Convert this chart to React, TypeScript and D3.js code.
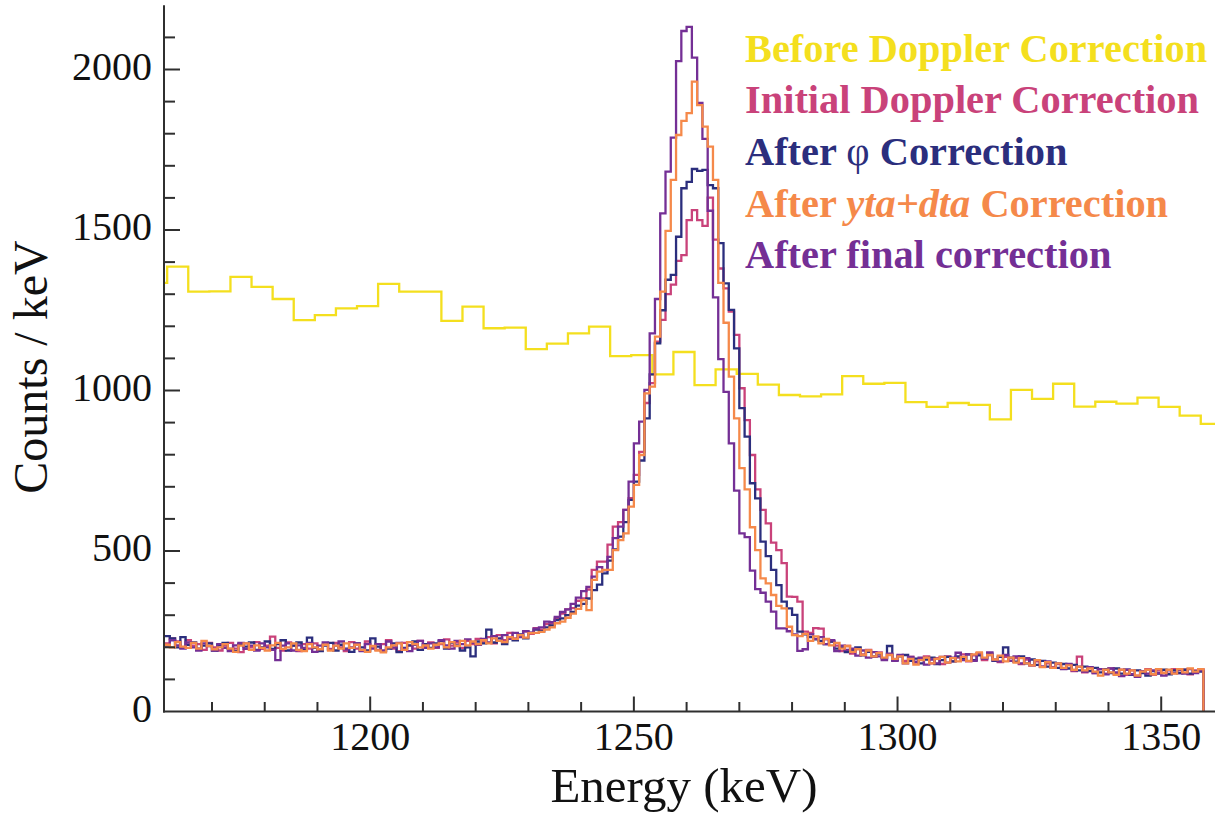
import React from 'react';
import * as d3 from 'd3';

// ---------- data ----------
// fine histograms: 1 keV bins, first bin lower edge 1161 keV
const fineStart = 1161;
const fineBin = 1;
// coarse histogram (before Doppler correction): 4 keV bins starting at 1157.5 keV
const coarseStart = 1157.5;
const coarseBin = 4;

const beforeDoppler = [
  1335, 1386, 1308, 1309, 1354, 1323, 1285, 1219, 1235, 1256,
  1263, 1332, 1308, 1308, 1217, 1261, 1194, 1196, 1129, 1146,
  1178, 1199, 1107, 1110, 1050, 1120, 1017, 1066, 1052, 1018,
  986, 982, 988, 1045, 1021, 1024, 964, 949, 961, 955,
  910, 1002, 974, 1021, 950, 965, 959, 978, 949, 922,
  896,
];

const initialDoppler = [
  212, 228, 218, 198, 222, 205, 210, 192, 214, 200,
  190, 205, 214, 196, 185, 212, 200, 216, 195, 205,
  233, 198, 190, 215, 205, 188, 210, 196, 212, 190,
  208, 195, 214, 200, 188, 216, 196, 190, 218, 202,
  192, 210, 222, 196, 188, 214, 205, 196, 220, 204,
  215, 198, 210, 225, 205, 215, 198, 220, 210, 226,
  218, 232, 212, 238, 222, 245, 228, 236, 250, 242,
  260, 255, 272, 275, 290, 305, 318, 322, 345, 352,
  380, 441, 467, 467, 520, 576, 590, 628, 665, 737,
  809, 961, 1023, 1152, 1220, 1300, 1330, 1404, 1422, 1531,
  1562, 1531, 1513, 1601, 1470, 1380, 1318, 1246, 1173, 1007,
  908, 799, 692, 628, 586, 526, 503, 462, 358, 357,
  342, 249, 245, 260, 258, 225, 218, 205, 188, 204,
  180, 196, 178, 192, 170, 184, 166, 178, 160, 174,
  158, 170, 152, 164, 172, 150, 166, 148, 172, 156,
  168, 178, 156, 175, 182, 160, 176, 162, 154, 170,
  158, 166, 148, 162, 144, 156, 140, 150, 138, 148,
  134, 146, 126, 171, 122, 136, 120, 132, 118, 134,
  116, 130, 114, 128, 112, 126, 132, 114, 128, 120,
  118, 132, 120, 130, 116, 128, 132,
];

const afterPhi = [
  235, 228, 200, 232, 208, 215, 196, 205, 212, 190,
  206, 214, 195, 188, 210, 202, 215, 192, 200, 218,
  195, 210, 222, 190, 205, 215, 192, 230, 198, 188,
  205, 214, 190, 208, 196, 186, 212, 200, 190, 228,
  202, 188, 196, 212, 185, 198, 206, 218, 192, 210,
  198, 212, 220, 196, 215, 206, 190, 200, 172, 218,
  212, 255, 215, 228, 210, 232, 222, 240, 228, 245,
  255, 250, 262, 268, 285, 290, 300, 310, 330, 335,
  352, 378, 395, 430, 470, 505, 545, 590, 659, 716,
  782, 913, 1050, 1147, 1250, 1345, 1360, 1479, 1630, 1650,
  1690, 1684, 1687, 1640, 1630, 1459, 1334, 1251, 1131, 945,
  856, 711, 664, 529, 484, 441, 394, 342, 321, 301,
  249, 240, 232, 225, 220, 210, 218, 196, 200, 185,
  192, 200, 175, 186, 172, 180, 166, 204, 160, 172,
  176, 158, 165, 150, 162, 168, 148, 160, 170, 156,
  172, 164, 178, 160, 175, 166, 180, 158, 170, 200,
  168, 155, 172, 150, 162, 145, 158, 140, 152, 136,
  148, 134, 145, 128, 140, 126, 136, 122, 132, 120,
  134, 118, 130, 114, 128, 120, 112, 126, 118, 130,
  116, 128, 120, 130, 118, 126, 124,
];

const afterYtaDta = [
  208, 200, 216, 202, 198, 214, 196, 220, 204, 194,
  200, 210, 196, 186, 205, 212, 192, 206, 198, 190,
  206, 214, 195, 200, 212, 192, 188, 210, 200, 194,
  208, 190, 205, 196, 212, 198, 208, 192, 186, 204,
  190, 184, 200, 206, 212, 192, 216, 210, 200, 206,
  196, 208, 212, 200, 216, 204, 220, 206, 218, 210,
  222, 212, 228, 220, 216, 232, 226, 238, 230, 244,
  245, 248, 255, 262, 275, 280, 292, 305, 320, 347,
  316, 410, 436, 441, 441, 503, 534, 555, 638, 706,
  799, 991, 1012, 1168, 1308, 1497, 1656, 1796, 1840, 1864,
  1962, 1889, 1822, 1760, 1656, 1335, 1211, 1043, 913, 758,
  692, 574, 503, 415, 399, 363, 329, 321, 264, 238,
  235, 242, 220, 234, 212, 226, 206, 214, 196, 204,
  186, 194, 176, 190, 172, 182, 168, 176, 164, 172,
  150, 164, 146, 160, 168, 150, 164, 170, 152, 166,
  156, 170, 158, 178, 184, 168, 176, 162, 174, 156,
  168, 152, 166, 150, 144, 160, 138, 154, 136, 150,
  136, 144, 130, 140, 128, 134, 124, 112, 130, 122,
  114, 130, 118, 128, 112, 124, 130, 116, 132, 120,
  130, 118, 132, 122, 134, 124, 132,
];

const afterFinal = [
  205, 222, 206, 196, 215, 200, 190, 212, 204, 190,
  210, 198, 188, 206, 214, 195, 205, 190, 212, 200,
  192, 160, 205, 212, 190, 206, 198, 214, 186, 205,
  215, 192, 205, 218, 194, 200, 212, 188, 210, 196,
  210, 190, 218, 200, 214, 196, 188, 208, 220, 198,
  212, 200, 222, 206, 196, 220, 210, 225, 214, 208,
  226, 215, 235, 220, 238, 226, 245, 232, 250, 246,
  258, 262, 280, 278, 295, 310, 318, 335, 355, 375,
  388, 420, 450, 440, 482, 540, 576, 628, 716, 835,
  903, 1002, 1178, 1285, 1552, 1682, 1788, 2026, 2120, 2133,
  2037, 1896, 1784, 1560, 1290, 1098, 996, 835, 688, 555,
  543, 439, 381, 370, 342, 311, 259, 259, 250, 240,
  189, 194, 240, 226, 232, 210, 222, 188, 205, 192,
  196, 174, 190, 168, 185, 172, 160, 180, 158, 176,
  150, 170, 155, 168, 146, 162, 150, 170, 152, 168,
  183, 160, 178, 158, 180, 165, 184, 160, 156, 176,
  158, 172, 150, 166, 144, 160, 140, 156, 136, 150,
  132, 148, 128, 140, 124, 138, 120, 132, 116, 134,
  122, 110, 130, 116, 108, 126, 118, 128, 120, 112,
  128, 120, 130, 118, 132, 120, 128,
];

const yMajorTicks = [0, 500, 1000, 1500, 2000];
const xMajorTicks = [1200, 1250, 1300, 1350];

const seriesNames = [
  'Before Doppler Correction',
  'Initial Doppler Correction',
  'After φ Correction',
  'After yta+dta Correction',
  'After final correction',
];
const seriesColors = ['#f4df1e', '#c9427a', '#2b2e7d', '#f5894a', '#742f95'];

// ---------- layout ----------
const W = 1223;
const H = 818;
const X0 = 164;
const X1 = 1215;
const Y0 = 711.5;
const Y1 = 5.3;
const FONT = '"Liberation Serif", "Times New Roman", Times, serif';

const x = d3.scaleLinear().domain([1160.9, 1360.2]).range([X0, X1]);
const y = d3.scaleLinear().domain([0, 2200]).range([Y0, Y1]);

type P = [number, number];
function stepPoints(start: number, width: number, values: number[], dropEnd: boolean): P[] {
  const pts: P[] = [];
  values.forEach((v, i) => {
    pts.push([start + i * width, v]);
    pts.push([start + (i + 1) * width, v]);
  });
  if (dropEnd) pts.push([start + values.length * width, 0]);
  return pts;
}
const lineGen = d3
  .line<P>()
  .x((d) => x(d[0]))
  .y((d) => y(d[1]));

export default function App() {
  const fineSeries = [
    { vals: initialDoppler, color: seriesColors[1] },
    { vals: afterPhi, color: seriesColors[2] },
    { vals: afterFinal, color: seriesColors[4] },
    { vals: afterYtaDta, color: seriesColors[3] },
  ];
  const yMinor = d3.range(100, 2200, 100).filter((v) => v % 500 !== 0);
  const xMinor = d3.range(1170, 1360, 10).filter((v) => v % 50 !== 0);
  const legendX = 745;
  const legendY = [61.7, 113.3, 165, 216.7, 268.3];

  return (
    <svg
      width={W}
      height={H}
      style={{ position: 'absolute', left: 0, top: 0, display: 'block', background: '#fff' }}
    >
      <defs>
        <clipPath id="plotClip">
          <rect x={X0} y={0} width={X1 - X0} height={Y0 + 2} />
        </clipPath>
      </defs>
      <g clipPath="url(#plotClip)" fill="none" strokeWidth={2.3} strokeLinejoin="miter">
        <path d={lineGen(stepPoints(coarseStart, coarseBin, beforeDoppler, false)) || ''} stroke={seriesColors[0]} />
        {fineSeries.map((s, i) => (
          <path key={i} d={lineGen(stepPoints(fineStart, fineBin, s.vals, true)) || ''} stroke={s.color} />
        ))}
      </g>

      {/* axes */}
      <g stroke="#2f2f2f" strokeWidth={2}>
        <line x1={X0} y1={Y1} x2={X0} y2={Y0 + 1} />
        <line x1={X0 - 1} y1={Y0} x2={X1} y2={Y0} />
        {yMinor.map((v) => (
          <line key={'ym' + v} x1={X0} x2={X0 + 11} y1={y(v)} y2={y(v)} />
        ))}
        {yMajorTicks.filter((v) => v > 0).map((v) => (
          <line key={'yM' + v} x1={X0} x2={X0 + 16} y1={y(v)} y2={y(v)} />
        ))}
        {xMinor.map((v) => (
          <line key={'xm' + v} x1={x(v)} x2={x(v)} y1={Y0} y2={Y0 - 9.5} />
        ))}
        {xMajorTicks.map((v) => (
          <line key={'xM' + v} x1={x(v)} x2={x(v)} y1={Y0} y2={Y0 - 15} />
        ))}
      </g>

      <g fontFamily={FONT} fill="#111" fontSize={40}>
        {yMajorTicks.map((v) => (
          <text key={'yl' + v} x={152} y={y(v) + 10} textAnchor="end">
            {v}
          </text>
        ))}
        {xMajorTicks.map((v) => (
          <text key={'xl' + v} x={x(v)} y={750} textAnchor="middle">
            {v}
          </text>
        ))}
        <text x={684} y={802} textAnchor="middle" fontSize={49}>
          Energy (keV)
        </text>
        <text transform="translate(47,367) rotate(-90)" textAnchor="middle" fontSize={48}>
          Counts / keV
        </text>
      </g>

      <g fontFamily={FONT} fontSize={40.4} fontWeight="bold">
        <text x={legendX} y={legendY[0]} fill={seriesColors[0]}>{seriesNames[0]}</text>
        <text x={legendX} y={legendY[1]} fill={seriesColors[1]}>{seriesNames[1]}</text>
        <text x={legendX} y={legendY[2]} fill={seriesColors[2]}>
          <tspan>After </tspan>
          <tspan fontWeight="normal">φ</tspan>
          <tspan> Correction</tspan>
        </text>
        <text x={legendX} y={legendY[3]} fill={seriesColors[3]}>
          <tspan>After </tspan>
          <tspan fontStyle="italic">yta+dta</tspan>
          <tspan> Correction</tspan>
        </text>
        <text x={legendX} y={legendY[4]} fill={seriesColors[4]}>{seriesNames[4]}</text>
      </g>
    </svg>
  );
}
